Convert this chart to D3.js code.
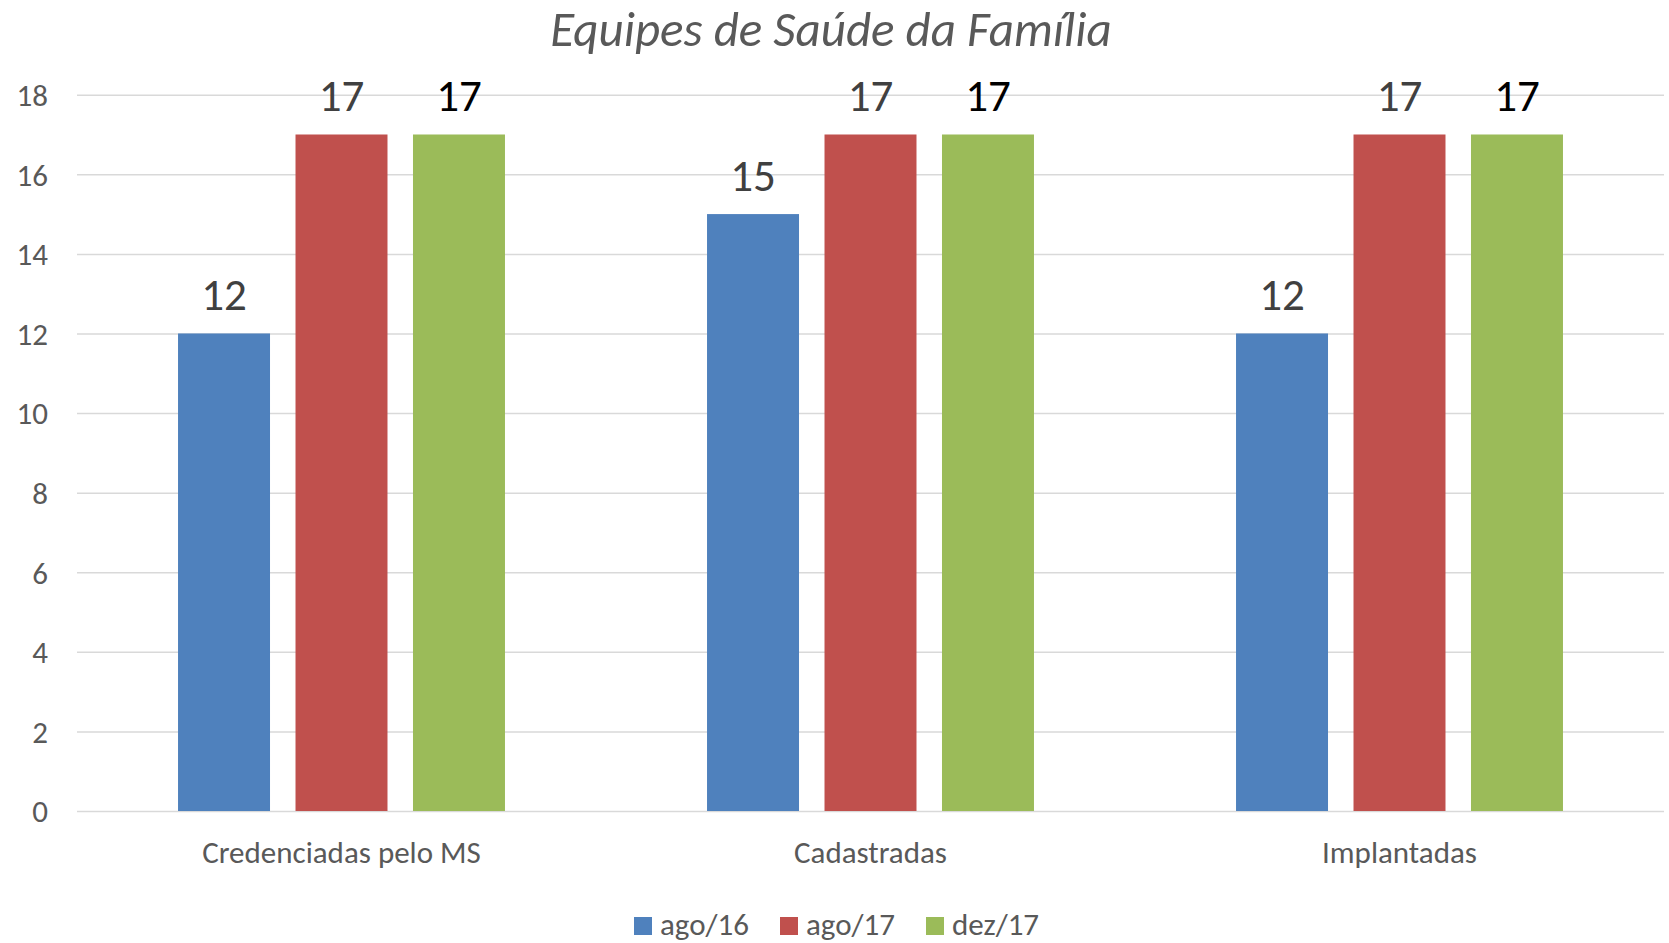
<!DOCTYPE html>
<html><head><meta charset="utf-8">
<script src="https://cdn.jsdelivr.net/npm/d3@7"></script>
<style>
html,body{margin:0;padding:0;background:#fff;}
svg{display:block;font-family:Carlito,Lato,sans-serif;}
</style></head>
<body><svg id="c" width="1669" height="943"></svg>
<script>
const categories = ["Credenciadas pelo MS", "Cadastradas", "Implantadas"];
const seriesNames = ["ago/16", "ago/17", "dez/17"];
const seriesColors = ["#4f81bd", "#c0504d", "#9bbb59"];
const labelColors = ["#404040", "#404040", "#000000"];
const values_ago16 = [12, 15, 12];
const values_ago17 = [17, 17, 17];
const values_dez17 = [17, 17, 17];
const yTicks = [0, 2, 4, 6, 8, 10, 12, 14, 16, 18];
const title = "Equipes de Saúde da Família";

const seriesValues = [values_ago16, values_ago17, values_dez17];
const svg = d3.select("#c");
const plotLeft = 77, plotRight = 1664, plotTop = 94.7, plotBottom = 811;

const y = d3.scaleLinear().domain([0, 18]).range([plotBottom, plotTop]);
const x0 = d3.scaleBand().domain(categories).range([plotLeft, plotRight]).padding(0);
const x1 = d3.scaleBand().domain(seriesNames).range([0, x0.bandwidth()])
  .paddingInner(0.217).paddingOuter(0.86);

// gridlines
const yAxis = d3.axisLeft(y).tickValues(yTicks).tickSize(-(plotRight - plotLeft)).tickPadding(29);
const gy = svg.append("g").attr("transform", `translate(${plotLeft},0)`).call(yAxis);
gy.select(".domain").remove();
gy.selectAll(".tick line").attr("stroke", "#d9d9d9").attr("stroke-width", 1.5);
gy.selectAll(".tick text").attr("fill", "#595959").attr("font-size", 31)
  .attr("font-family", "Carlito,Lato,sans-serif").attr("dy", "0.35em");

// bars
const groups = svg.append("g").selectAll("g").data(categories).join("g")
  .attr("transform", d => `translate(${x0(d)},0)`);
seriesNames.forEach((s, si) => {
  groups.append("rect")
    .attr("x", x1(s))
    .attr("width", x1.bandwidth())
    .attr("y", (d, ci) => y(seriesValues[si][ci]))
    .attr("height", (d, ci) => y(0) - y(seriesValues[si][ci]))
    .attr("fill", seriesColors[si]);
  groups.append("text")
    .attr("x", x1(s) + x1.bandwidth() / 2)
    .attr("y", (d, ci) => y(seriesValues[si][ci]) - 23)
    .attr("text-anchor", "middle")
    .attr("font-size", 45)
    .attr("fill", labelColors[si])
    .text((d, ci) => seriesValues[si][ci]);
});

// category axis labels
const xAxis = d3.axisBottom(x0).tickSize(0).tickPadding(0);
const gx = svg.append("g").attr("transform", `translate(0,${plotBottom})`).call(xAxis);
gx.select(".domain").remove();
gx.selectAll(".tick text").attr("fill", "#595959").attr("font-size", 31)
  .attr("font-family", "Carlito,Lato,sans-serif").attr("dy", null).attr("y", 52);

// title
svg.append("text").attr("x", 831).attr("y", 46).attr("text-anchor", "middle")
  .attr("font-size", 49).attr("font-style", "italic").attr("fill", "#595959").text(title);

// legend
const legendX = [634, 780, 926];
const lg = svg.append("g").selectAll("g").data(seriesNames).join("g")
  .attr("transform", (d, i) => `translate(${legendX[i]},917)`);
lg.append("rect").attr("width", 18).attr("height", 18).attr("fill", (d, i) => seriesColors[i]);
lg.append("text").attr("x", 26).attr("y", 18).attr("font-size", 31).attr("fill", "#595959").text(d => d);
</script></body></html>
